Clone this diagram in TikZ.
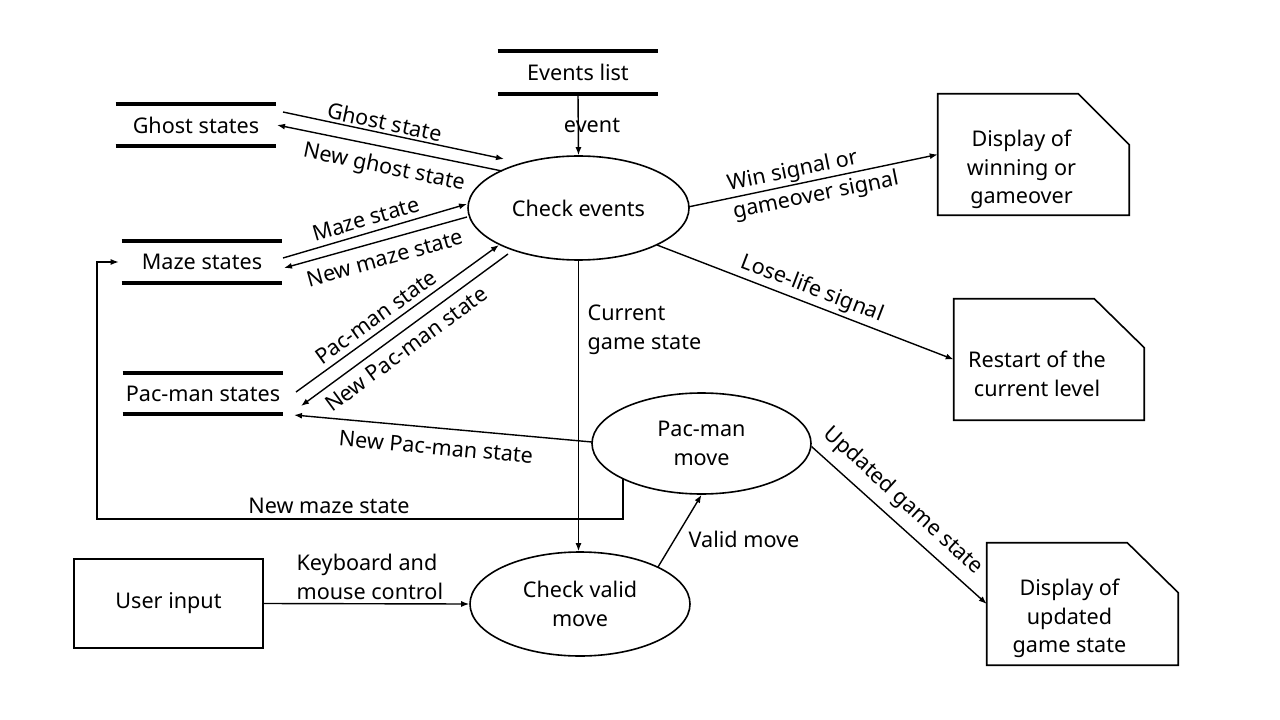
\documentclass[tikz,border=0pt]{standalone}
\usepackage{fontspec}
\setmainfont{Noto Sans}
\usetikzlibrary{arrows.meta,shapes.geometric,calc}
\begin{document}
\begin{tikzpicture}[x=0.75pt,y=-0.75pt,
  font=\fontsize{16.2}{21.6}\selectfont,
  arr/.style={line width=1.05pt,-{Latex[length=6pt,width=4.5pt]}},
  storebox/.style={inner sep=0pt,minimum width=120pt},
  storeline/.style={line width=3pt},
  proc/.style={ellipse,draw,line width=1.2pt,inner sep=0pt,align=center},
  docbox/.style={inner sep=0pt},
  doctext/.style={align=center},
  lbl/.style={inner sep=1pt}]
\useasboundingbox (0,0) rectangle (1280,720);
\fill[white] (0,0) rectangle (1280,720);

% data stores
\node[storebox,minimum height=32.25pt] (el) at (578,72.5) {Events list};
\node[storebox,minimum height=31.5pt] (gs) at (196,125) {Ghost states};
\node[storebox,minimum height=31.5pt] (ms) at (202,262) {Maze states};
\node[storebox,minimum height=30.75pt] (ps) at (203,393.5) {Pac-man states};
\foreach \s in {el,gs,ms,ps}{
  \draw[storeline] (\s.north west) -- (\s.north east);
  \draw[storeline] (\s.south west) -- (\s.south east);
}

% processes
\node[proc,minimum width=165.75pt,minimum height=78pt] (ce) at (578.5,208) {Check events};
\node[proc,minimum width=164.25pt,minimum height=75.75pt] (pm) at (701.5,443.5) {Pac-man\\move};
\node[proc,minimum width=165pt,minimum height=78pt] (cv) at (580,604) {Check valid\\move};

% external entity
\node[draw,line width=1.2pt,minimum width=141.75pt,minimum height=66.75pt] (ui) at (168.5,603.5) {User input};

% documents
\node[docbox,minimum width=143.25pt,minimum height=90.75pt] (dw) at (1033.5,154.5) {};
\node[docbox,minimum width=142.5pt,minimum height=90.75pt] (rl) at (1049,359.5) {};
\node[docbox,minimum width=143.25pt,minimum height=91.5pt] (du) at (1082.5,604) {};
\draw[line width=1.2pt] (dw.north west) -- ([shift={(-51,0)}]dw.north east) -- ([shift={(0,51)}]dw.north east) -- (dw.south east) -- (dw.south west) -- cycle;
\draw[line width=1.2pt] (rl.north west) -- ([shift={(-50,0)}]rl.north east) -- ([shift={(0,49)}]rl.north east) -- (rl.south east) -- (rl.south west) -- cycle;
\draw[line width=1.2pt] (du.north west) -- ([shift={(-51,0)}]du.north east) -- ([shift={(0,50)}]du.north east) -- (du.south east) -- (du.south west) -- cycle;
\node[doctext] (dwt) at ([shift={(-12,15)}]dw.center) {Display of\\winning or\\gameover};
\node[doctext] (rlt) at ([shift={(-12,14)}]rl.center) {Restart of the\\current level};
\node[doctext] (dut) at ([shift={(-13,14.5)}]du.center) {Display of\\updated\\game state};

% connectors
\draw[arr] (el.south) -- (ce.north);
\node[lbl] (l1) at (592,125) {event};

\draw[arr] ([shift={(87,-13)}]gs.center) -- ([shift={(-74.5,-49)}]ce.center);
\node[lbl,rotate=-12] (l2) at (385,122) {Ghost state};
\draw[arr] ([shift={(-76.5,-37)}]ce.center) -- ([shift={(81,0)}]gs.center);
\node[lbl,rotate=-11.6] (l3) at (384,168) {New ghost state};

\draw[arr] ([shift={(81,-4)}]ms.center) -- ([shift={(-111.5,-4)}]ce.center);
\node[lbl,rotate=16.4] (l4) at (366,219) {Maze state};
\draw[arr] ([shift={(-111.5,9)}]ce.center) -- ([shift={(82,6)}]ms.center);
\node[lbl,rotate=15.6] (l5) at (385,258) {New maze state};

\draw[arr] ([shift={(93,-1.5)}]ps.center) -- ([shift={(-79.5,37)}]ce.center);
\node[lbl,rotate=35.9] (l6) at (376,317) {Pac-man state};
\draw[arr] ([shift={(-70.5,46)}]ce.center) -- ([shift={(98,12.5)}]ps.center);
\node[lbl,rotate=36.3] (l7) at (406,349) {New Pac-man state};

\draw[arr] ([shift={(-109.5,-1.5)}]pm.center) -- ([shift={(91,21.5)}]ps.center);
\node[lbl,rotate=-5.2] (l8) at (436,447) {New Pac-man state};

\coordinate (loopA) at (97,519);
\draw[arr] ([shift={(-78.5,35)}]pm.center) -- ([shift={(-78.5,0)}]pm.center |- loopA) -- (loopA) -- (loopA |- ms.west) -- ([shift={(-3,0)}]ms.west);
\node[lbl] (l9) at (329,506) {New maze state};

\draw[arr] (ce.south) -- (ce.south |- cv.north);
\node[lbl,anchor=west,align=left] (l10) at (586,330) {Current\\game state};

\draw[arr] ([shift={(109.5,-1)}]ce.center) -- (dw.west);
\node[lbl,rotate=11.5,align=left] (l11) at (813,182) {Win signal or\\gameover signal};

\draw[arr] ([shift={(78.5,37)}]ce.center) -- (rl.west);
\node[lbl,rotate=-21] (l12) at (812,289) {Lose-life signal};

\draw[arr] ([shift={(110,3)}]pm.center) -- (du.west);
\node[lbl,rotate=-42.4] (l13) at (903,501) {Updated game state};

\draw[arr] ([shift={(78,-37)}]cv.center) -- (pm.south);
\node[lbl] (l14) at (744,539) {Valid move};

\draw[arr] (ui.east) -- (cv.west);
\node[lbl,anchor=west,align=left] (l15) at (295,577) {Keyboard and\\mouse control};
\end{tikzpicture}
\end{document}
